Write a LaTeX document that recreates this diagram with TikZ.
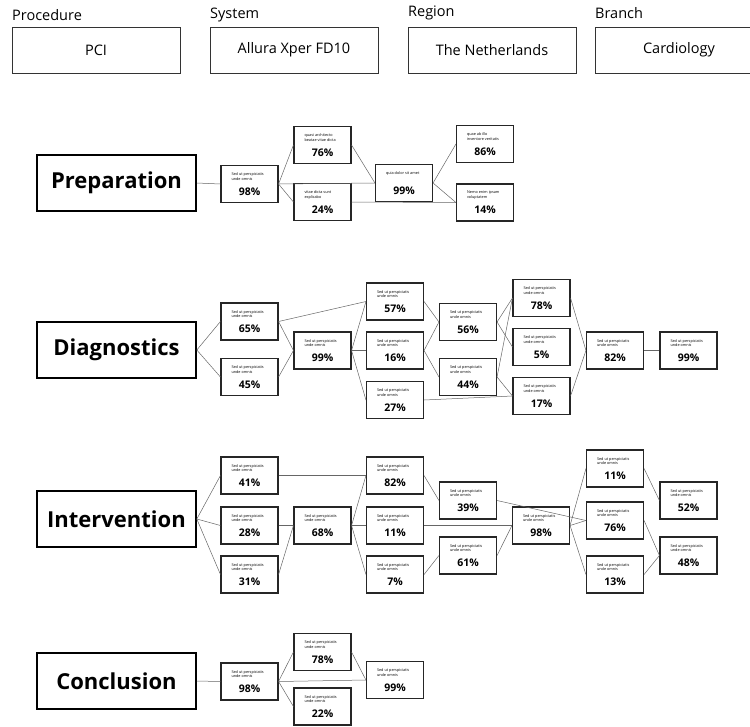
\documentclass[tikz,border=0pt]{standalone}
\usepackage{fontspec}
\setmainfont{Open Sans}
\usepackage{tikz}

\newcommand{\desc}[1]{\parbox{36pt}{\fontsize{3.8}{4.8}\selectfont\mdseries\raggedright #1}}
\newcommand{\sed}{\desc{Sed ut perspiciatis\\unde omnis}}

\tikzset{
  cell/.style={draw=black!85, line width=1.1pt, rectangle, minimum width=57pt, minimum height=37pt, inner sep=0pt, align=center, font=\fontsize{10.5}{11}\selectfont\bfseries},
  phase/.style={draw, line width=1.6pt, rectangle, minimum width=159pt, minimum height=56pt, font=\fontsize{22}{24}\selectfont\bfseries},
  info/.style={draw=black!80, line width=0.8pt, rectangle, minimum width=168pt, minimum height=46pt, font=\fontsize{14.5}{16}\selectfont},
  head/.style={anchor=west, inner sep=0pt, font=\fontsize{14.5}{16}\selectfont},
  link/.style={draw=black!60, line width=0.5pt}
}

\begin{document}
\begin{tikzpicture}[x=1pt, y=-1pt]
\useasboundingbox (0,0) rectangle (750,726);

\node[head] (hproc) at (12,15) {Procedure};
\node[head] (hsys) at (210,15) {System};
\node[head] (hreg) at (408,13) {Region};
\node[head] (hbr) at (595,13) {Branch};
\node[info] (proc) at (96,50) {PCI};
\node[info] (sys) at (294,50) {Allura Xper FD10};
\node[info] (reg) at (492,50) {The Netherlands};
\node[info] (br) at (679,50) {Cardiology};

\node[phase] (prep) at (116.5,183) {Preparation};
\node[phase] (diag) at (116.5,350) {Diagnostics};
\node[phase] (inter) at (116.5,519) {Intervention};
\node[phase] (concl) at (116.5,681) {Conclusion};

\node[cell] (p1) at (249.5,184) {\sed\\[5pt]98\%};
\node[cell] (p2) at (322.5,145) {\desc{quasi architecto\\beatae vitae dicta}\\[5pt]76\%};
\node[cell] (p3) at (322.5,202) {\desc{vitae dicta sunt\\explicabo}\\[5pt]24\%};
\node[cell] (p4) at (404,183) {\desc{quia dolor sit amet}\\[7pt]99\%};
\node[cell] (p5) at (485,144) {\desc{quae ab illo\\inventore veritatis}\\[5pt]86\%};
\node[cell] (p6) at (485,202.5) {\desc{Nemo enim ipsam\\voluptatem}\\[5pt]14\%};

\node[cell] (d1) at (249.5,321.5) {\sed\\[5pt]65\%};
\node[cell] (d2) at (249.5,377) {\sed\\[5pt]45\%};
\node[cell] (d3) at (322.5,350.5) {\sed\\[5pt]99\%};
\node[cell] (d4) at (395,301.5) {\sed\\[5pt]57\%};
\node[cell] (d5) at (395,350.5) {\sed\\[5pt]16\%};
\node[cell] (d6) at (395,400) {\sed\\[5pt]27\%};
\node[cell] (d7) at (468,322) {\sed\\[5pt]56\%};
\node[cell] (d8) at (468,377) {\sed\\[5pt]44\%};
\node[cell] (d9) at (541.5,298) {\sed\\[5pt]78\%};
\node[cell] (d10) at (541.5,347) {\sed\\[5pt]5\%};
\node[cell] (d11) at (541.5,396) {\sed\\[5pt]17\%};
\node[cell] (d12) at (615,350.5) {\sed\\[5pt]82\%};
\node[cell] (d13) at (688.5,350.5) {\sed\\[5pt]99\%};

\node[cell] (i1) at (249.5,475.5) {\sed\\[5pt]41\%};
\node[cell] (i2) at (249.5,525.5) {\sed\\[5pt]28\%};
\node[cell] (i3) at (249.5,574.5) {\sed\\[5pt]31\%};
\node[cell] (i4) at (322.5,525.5) {\sed\\[5pt]68\%};
\node[cell] (i5) at (395,475.5) {\sed\\[5pt]82\%};
\node[cell] (i6) at (395,525.5) {\sed\\[5pt]11\%};
\node[cell] (i7) at (395,574.5) {\sed\\[5pt]7\%};
\node[cell] (i8) at (468,500.5) {\sed\\[5pt]39\%};
\node[cell] (i9) at (468,555.5) {\sed\\[5pt]61\%};
\node[cell] (i10) at (541,525.5) {\sed\\[5pt]98\%};
\node[cell] (i11) at (615,468.5) {\sed\\[5pt]11\%};
\node[cell] (i12) at (615,520.5) {\sed\\[5pt]76\%};
\node[cell] (i13) at (615,574.5) {\sed\\[5pt]13\%};
\node[cell] (i14) at (688.5,500.5) {\sed\\[5pt]52\%};
\node[cell] (i15) at (688.5,555.5) {\sed\\[5pt]48\%};

\node[cell] (c1) at (249.5,681.5) {\sed\\[5pt]98\%};
\node[cell] (c2) at (322.5,652) {\sed\\[5pt]78\%};
\node[cell] (c3) at (322.5,706.5) {\sed\\[5pt]22\%};
\node[cell] (c4) at (395,680) {\sed\\[5pt]99\%};

\draw[link] (prep.east) -- (p1.west);
\draw[link] (p1.east) -- (p2.west);
\draw[link] (p1.east) -- (p3.west);
\draw[link] (p1.east) -- (p4.west);
\draw[link] (p2.east) -- (p4.west);
\draw[link] (p3.east) -- (p6.west);
\draw[link] (p4.east) -- (p5.west);
\draw[link] (p4.east) -- (p6.west);

\draw[link] (diag.east) -- (d1.west);
\draw[link] (diag.east) -- (d2.west);
\draw[link] (d1.east) -- (d3.west);
\draw[link] (d2.east) -- (d3.west);
\draw[link] (d1.east) -- (d4.west);
\draw[link] (d3.east) -- (d4.west);
\draw[link] (d3.east) -- (d5.west);
\draw[link] (d3.east) -- (d6.west);
\draw[link] (d4.east) -- (d7.west);
\draw[link] (d5.east) -- (d7.west);
\draw[link] (d5.east) -- (d8.west);
\draw[link] (d6.east) -- (d11.west);
\draw[link] (d7.east) -- (d9.west);
\draw[link] (d7.east) -- (d10.west);
\draw[link] (d8.east) -- (d9.west);
\draw[link] (d8.east) -- (d11.west);
\draw[link] (d9.east) -- (d12.west);
\draw[link] (d11.east) -- (d12.west);
\draw[link] (d12.east) -- (d13.west);

\draw[link] (inter.east) -- (i1.west);
\draw[link] (inter.east) -- (i2.west);
\draw[link] (inter.east) -- (i3.west);
\draw[link] (i1.east) -- (i5.west);
\draw[link] (i2.east) -- (i4.west);
\draw[link] (i3.east) -- (i4.west);
\draw[link] (i4.east) -- (i5.west);
\draw[link] (i4.east) -- (i6.west);
\draw[link] (i4.east) -- (i7.west);
\draw[link] (i5.east) -- (i8.west);
\draw[link] (i6.east) -- (i10.west);
\draw[link] (i7.east) -- (i9.west);
\draw[link] (i9.east) -- (i10.west);
\draw[link] (i8.east) -- (i12.west);
\draw[link] (i10.east) -- (i11.west);
\draw[link] (i10.east) -- (i12.west);
\draw[link] (i10.east) -- (i13.west);
\draw[link] (i11.east) -- (i14.west);
\draw[link] (i12.east) -- (i15.west);
\draw[link] (i13.east) -- (i15.west);

\draw[link] (concl.east) -- (c1.west);
\draw[link] (c1.east) -- (c2.west);
\draw[link] (c1.east) -- (c3.west);
\draw[link] (c1.east) -- (c4.west);
\draw[link] (c2.east) -- (c4.west);
\end{tikzpicture}
\end{document}
